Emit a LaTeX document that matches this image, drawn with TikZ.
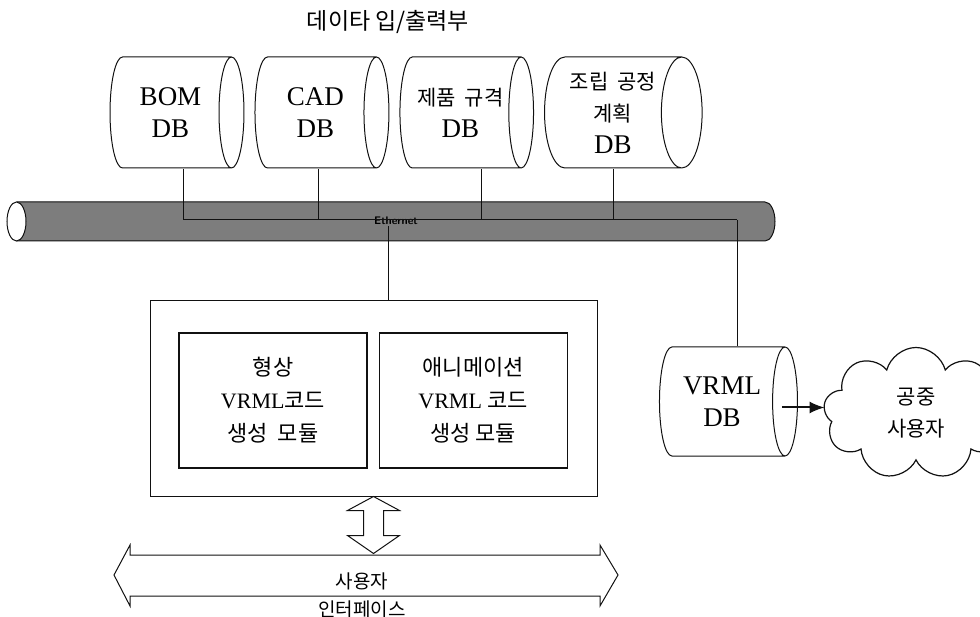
\documentclass[tikz,border=0pt]{standalone}
\usepackage{fontspec}
\setmainfont{Liberation Serif}
\newfontfamily\kr{Noto Sans CJK KR}
\usepackage{xcolor}
\definecolor{cLine}{HTML}{111111}
\definecolor{cPipe}{HTML}{7D7D7D}
\usetikzlibrary{positioning,arrows.meta,shapes.geometric,shapes.symbols,calc}
\tikzset{
  % cylinder: minimum height runs along its axis
  node-db/.style={draw=cLine,line width=1pt,cylinder,aspect=0.5,
    minimum height=125pt,minimum width=111pt,align=center,inner sep=0pt,
    text width=96pt,font=\fontsize{27}{32}\selectfont},
  node-frame/.style={draw=cLine,line width=1pt,minimum width=447pt,minimum height=195pt},
  node-module/.style={draw=cLine,line width=1.2pt,minimum width=188pt,minimum height=135pt,
    align=center,font=\fontsize{22}{33}\selectfont},
  node-cloud/.style={draw=cLine,line width=1.2pt,cloud,cloud puffs=9,cloud ignores aspect,
    minimum width=185pt,minimum height=132pt,align=center,
    font=\kr\fontsize{21}{32}\selectfont},
  link/.style={draw=cLine,line width=1pt},
  arrow/.style={-{Latex[length=15pt,width=12pt]},line width=2pt,draw=cLine},
  hollow/.style={draw=cLine,line width=1pt,line join=miter},
}
\newcommand{\krs}[1]{{\kr\fontsize{21}{31}\selectfont #1}}

\begin{document}
\begin{tikzpicture}[x=1pt,y=-1pt,node distance=10pt]
  \useasboundingbox (0,0) rectangle (980,617);
  \node[font=\kr\fontsize{23}{26}\selectfont] (title) at (388,22) {데이타 입/출력부};

  % DB row
  \node[node-db]                   (bom)  at (170.5,112.5) {BOM\\DB};
  \node[node-db,right=of bom]      (cad)  {CAD\\DB};
  \node[node-db,right=of cad]      (spec) {\krs{제품 규격}\\DB};
  \node[node-db,right=of spec]     (plan) {\krs{조립 공정}\\\krs{계획}\\DB};

  % ethernet pipe
  \fill[cPipe] (16.5,202) -- (765,202) arc[start angle=-90,end angle=90,x radius=10,y radius=19.5]
    -- (16.5,241) -- cycle;
  \draw[link] (16.5,202) -- (765,202) arc[start angle=-90,end angle=90,x radius=10,y radius=19.5]
    -- (16.5,241);
  \filldraw[link,fill=white] (16.5,221.5) ellipse[x radius=9.5,y radius=19.5];

  \coordinate (tap-bom)  at (183,220);
  \coordinate (tap-cad)  at (318,220);
  \coordinate (tap-spec) at (481,220);
  \coordinate (tap-plan) at (613,220);
  \coordinate (tap-vrml) at (737,220);
  \node[font=\sffamily\bfseries\fontsize{11}{12}\selectfont,inner sep=1pt] (eth) at (396,221) {Ethernet};

  \draw[link] (tap-bom) -- (tap-vrml);
  \draw[link] (tap-bom)  -- (tap-bom |- bom.south);
  \draw[link] (tap-cad)  -- (tap-cad |- cad.south);
  \draw[link] (tap-spec) -- (tap-spec |- spec.south);
  \draw[link] (tap-plan) -- (tap-plan |- plan.south);

  % VRML generator
  \node[node-frame] (frame) at (373.5,398.5) {};
  \node[node-module] (shape) at (273,400.5) {\kr 형상\\VRML{\kr 코드}\\{\kr 생성~~모듈}};
  \node[node-module,right=11pt of shape] (anim) {\kr 애니메이션\\VRML {\kr 코드}\\{\kr 생성 모듈}};
  \draw[link] ([xshift=-8pt]eth.south) -- ([xshift=-8pt]eth.south |- frame.north);

  % user interface
  \draw[hollow] (frame.south) -- ++(26,14) -- ++(-16,0) -- ++(0,25) -- ++(16,0) -- ++(-26,18)
    -- ++(-26,-18) -- ++(16,0) -- ++(0,-25) -- ++(-16,0) -- cycle;
  \draw[hollow] (114,575) -- (130,545) -- (130,555) -- (600,555) -- (600,545) -- (618,575)
    -- (600,606) -- (600,596) -- (130,596) -- (130,606) -- cycle;
  \node[font=\kr\fontsize{19}{28}\selectfont,align=center] (ui) at (362,595) {사용자\\인터페이스};

  % VRML DB and public users
  \node[node-db,minimum height=138pt,minimum width=109pt] (vrml) at (722,401.5) {VRML\\DB};
  \draw[link] (tap-vrml) -- (tap-vrml |- vrml.north);
  \node[node-cloud] (users) at (916,413.5) {공중\\사용자};
  \draw[arrow] ([shift={(-16,6)}]vrml.east) coordinate (a0) -- (a0 -| users.west);
\end{tikzpicture}
\end{document}
